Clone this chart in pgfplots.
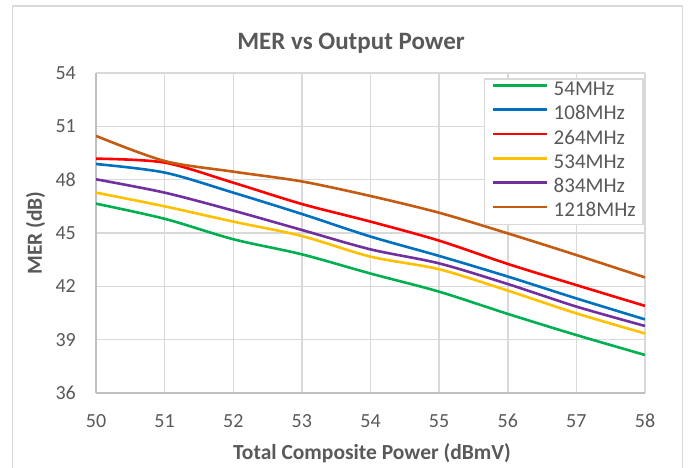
\documentclass[border=0pt]{standalone}
\usepackage{fontspec}
\setmainfont{Carlito}
\usepackage{pgfplots}
\pgfplotsset{compat=1.18}
\definecolor{txt}{HTML}{595959}
\definecolor{gridc}{HTML}{D9D9D9}
\definecolor{axc}{HTML}{BFBFBF}
\definecolor{cgreen}{HTML}{00B050}
\definecolor{cblue}{HTML}{0070C0}
\definecolor{cred}{HTML}{FF0000}
\definecolor{cyellow}{HTML}{FFC000}
\definecolor{cpurple}{HTML}{7030A0}
\definecolor{cbrown}{HTML}{C55A11}
\begin{document}
\begin{tikzpicture}
\useasboundingbox (0pt,0pt) rectangle (693pt,468pt);
\draw[gridc, line width=1.5pt] (12.5pt,-5pt) rectangle (682.7pt,462pt);
\begin{axis}[
  at={(96pt,75pt)}, anchor=south west,
  scale only axis, width=549pt, height=320pt,
  xmin=50, xmax=58, ymin=36, ymax=54,
  xtick={50,51,...,58}, ytick={36,39,...,54},
  /pgf/number format/assume math mode=true,
  axis x line*=bottom, axis y line*=left,
  axis line style={-, draw=axc, line width=1.5pt},
  major tick length=0pt,
  grid=major,
  major grid style={gridc, line width=1.5pt},
  ticklabel style={font=\fontsize{20}{24}\selectfont, text=txt},
  xticklabel style={anchor=center, yshift=-28pt},
  yticklabel style={anchor=east, inner sep=0pt, xshift=-20pt},
  title={MER vs Output Power},
  title style={at={(axis description cs:0.4645,1.056)}, anchor=base, font=\fontsize{25}{29}\selectfont\bfseries, text=txt},
  xlabel={Total Composite Power (dBmV)},
  xlabel style={at={(axis description cs:0.5027,-0.209)}, anchor=base, font=\fontsize{21.5}{25}\selectfont\bfseries, text=txt},
  ylabel={MER (dB)},
  ylabel style={at={(axis description cs:-0.0984,0.5)}, anchor=base, font=\fontsize{21.5}{25}\selectfont\bfseries, text=txt},
  legend style={at={(rel axis cs:0.998,0.984)}, anchor=north east,
    draw=gridc, line width=1.5pt, fill=white,
    font=\fontsize{21}{25}\selectfont, text=txt,
    inner xsep=7.5pt, inner ysep=2.6pt, row sep=5.3pt, column sep=5pt,
    nodes={inner sep=0pt, text height=14pt, text depth=5pt}},
  legend cell align=left,
  legend image code/.code={\draw[#1, line width=2.6pt] (0pt,5.5pt) -- (54pt,5.5pt);},
  every axis plot/.append style={line width=2.6pt, smooth, no marks},
]
\addplot[cgreen] coordinates {(50,46.65) (51,45.8) (52,44.65) (53,43.8) (54,42.72) (55,41.7) (56,40.45) (57,39.26) (58,38.14)};
\addlegendentry{54MHz}
\addplot[cblue] coordinates {(50,48.88) (51,48.4) (52,47.27) (53,46.07) (54,44.8) (55,43.71) (56,42.55) (57,41.32) (58,40.14)};
\addlegendentry{108MHz}
\addplot[cred] coordinates {(50,49.18) (51,48.96) (52,47.83) (53,46.63) (54,45.64) (55,44.57) (56,43.26) (57,42.07) (58,40.9)};
\addlegendentry{264MHz}
\addplot[cyellow] coordinates {(50,47.27) (51,46.5) (52,45.64) (53,44.83) (54,43.67) (55,42.96) (56,41.76) (57,40.48) (58,39.35)};
\addlegendentry{534MHz}
\addplot[cpurple] coordinates {(50,48.02) (51,47.27) (52,46.26) (53,45.17) (54,44.08) (55,43.29) (56,42.13) (57,40.86) (58,39.77)};
\addlegendentry{834MHz}
\addplot[cbrown] coordinates {(50,50.46) (51,49.05) (52,48.45) (53,47.9) (54,47.08) (55,46.14) (56,44.98) (57,43.76) (58,42.5)};
\addlegendentry{1218MHz}
\end{axis}
\end{tikzpicture}
\end{document}
